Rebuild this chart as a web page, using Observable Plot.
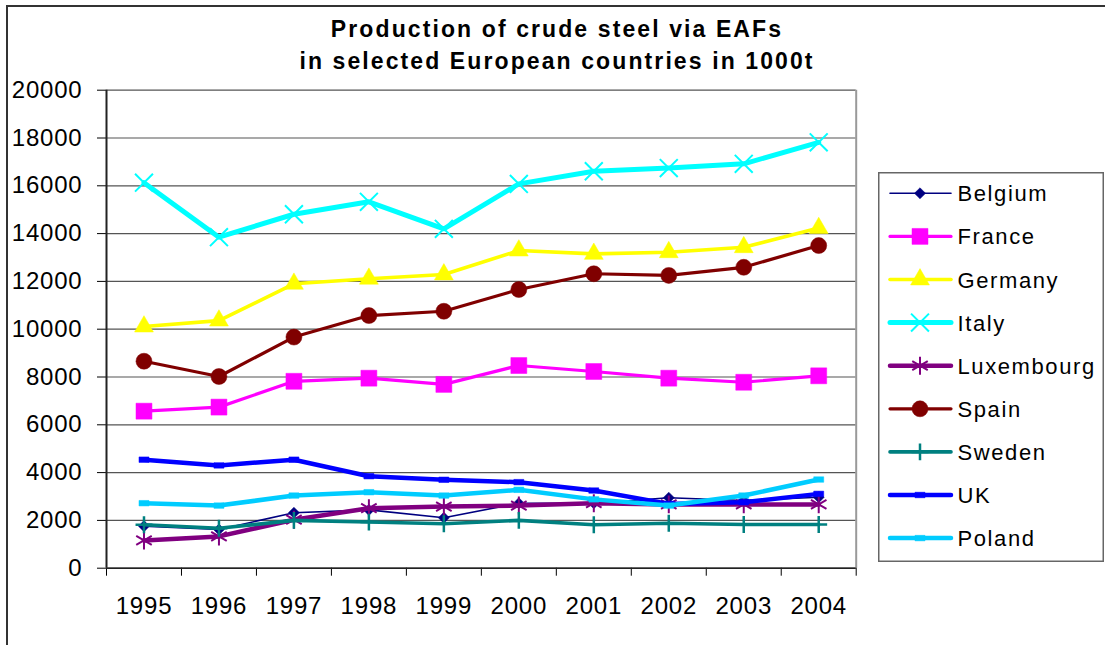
<!DOCTYPE html>
<html><head><meta charset="utf-8">
<script src="https://cdn.jsdelivr.net/npm/d3@7"></script>
<script src="https://cdn.jsdelivr.net/npm/@observablehq/plot@0.6"></script>
<style>
body{margin:0;background:#fff;font-family:"Liberation Sans",Arial,sans-serif;}
#wrap{position:relative;width:1105px;height:645px;overflow:hidden;background:#fff;}
#frame{position:absolute;left:6px;top:5px;width:1200px;height:800px;border-top:2px solid #333;border-left:2px solid #333;pointer-events:none;}
#title{height:85px;box-sizing:border-box;padding-top:13px;width:1114px;text-align:center;font-weight:bold;font-size:23px;letter-spacing:2.1px;line-height:32px;color:#000;}
#legend{position:absolute;left:878px;top:172px;}
</style>
</head>
<body>
<div id="wrap">
  <div id="title">Production of crude steel via EAFs<br>in selected European countries in 1000t</div>
  <div id="chart"></div>
  <div id="legend"></div>
  <div id="frame"></div>
</div>
<script>
// ---- data ----
const years = [1995, 1996, 1997, 1998, 1999, 2000, 2001, 2002, 2003, 2004];
const belgium    = [1760, 1620, 2320, 2440, 2110, 2720, 2720, 2950, 2830, 2970];
const france     = [6570, 6740, 7820, 7950, 7690, 8480, 8230, 7950, 7780, 8050];
const germany    = [10110, 10360, 11900, 12110, 12290, 13290, 13150, 13220, 13430, 14230];
const italy      = [16130, 13850, 14810, 15330, 14200, 16080, 16610, 16740, 16920, 17820];
const luxembourg = [1160, 1330, 2030, 2510, 2580, 2620, 2720, 2670, 2670, 2670];
const spain      = [8660, 8020, 9670, 10570, 10750, 11660, 12320, 12250, 12590, 13500];
const sweden     = [1820, 1670, 2000, 1930, 1860, 2000, 1820, 1880, 1830, 1830];
const uk         = [4540, 4300, 4540, 3850, 3700, 3600, 3250, 2690, 2760, 3110];
const poland     = [2720, 2620, 3040, 3180, 3040, 3280, 2880, 2620, 3040, 3710];
const countries  = ["Belgium", "France", "Germany", "Italy", "Luxembourg", "Spain", "Sweden", "UK", "Poland"];
const seriesValues = [belgium, france, germany, italy, luxembourg, spain, sweden, uk, poland];
const yTicks = [0, 2000, 4000, 6000, 8000, 10000, 12000, 14000, 16000, 18000, 20000];

// ---- styles ----
const dash = {
  draw(ctx, size) {
    const w = Math.sqrt(size) * 1.13, h = w * 0.55;
    ctx.moveTo(-w / 2, -h / 2); ctx.lineTo(w / 2, -h / 2); ctx.lineTo(w / 2, h / 2); ctx.lineTo(-w / 2, h / 2); ctx.closePath();
  }
};
const styles = {
  Belgium:    {color: "#000080", lw: 1.6, symbol: "diamond2", d3sym: d3.symbolDiamond2, r: 5,   fill: true},
  France:     {color: "#FF00FF", lw: 3.2, symbol: "square",   d3sym: d3.symbolSquare,   r: 9,   fill: true},
  Germany:    {color: "#FFFF00", lw: 3.6, symbol: "triangle", d3sym: d3.symbolTriangle, r: 7,   fill: true},
  Italy:      {color: "#00FFFF", lw: 5,   symbol: "times",    d3sym: d3.symbolTimes,    r: 8.2, fill: false, sw: 2},
  Luxembourg: {color: "#800080", lw: 4.5, symbol: "asterisk", d3sym: d3.symbolAsterisk, r: 8.5, fill: false, sw: 2},
  Spain:      {color: "#800000", lw: 3.2, symbol: "circle",   d3sym: d3.symbolCircle,   r: 8,   fill: true},
  Sweden:     {color: "#008080", lw: 3.6, symbol: "plus",     d3sym: d3.symbolPlus,     r: 5.5, fill: false, sw: 2.5},
  UK:         {color: "#0000FF", lw: 4.5, symbol: dash,       d3sym: dash,              r: 5,   fill: true},
  Poland:     {color: "#00CCFF", lw: 4.5, symbol: dash,       d3sym: dash,              r: 5,   fill: true}
};

const rows = [];
countries.forEach((c, i) => years.forEach((y, j) => rows.push({country: c, year: y, value: seriesValues[i][j]})));

const boundaries = years.map(y => y - 0.5).concat([years[years.length - 1] + 0.5]);
const xDomain = [boundaries[0], boundaries[boundaries.length - 1]];

const marks = [
  Plot.ruleY(yTicks, {stroke: "#555", strokeWidth: 1.2}),
  Plot.ruleX([xDomain[1]], {stroke: "#999", strokeWidth: 2}),
  Plot.axisY({ticks: yTicks, tickSize: 9, tickPadding: 15, tickFormat: d => String(d), label: null}),
  Plot.axisX({ticks: boundaries, tickSize: 8, tickFormat: () => "", label: null}),
  Plot.axisX({ticks: years, tickSize: 0, tickPadding: 29, tickFormat: d => String(d), label: null}),
  Plot.ruleX([xDomain[0]], {stroke: "#222", strokeWidth: 2}),
  Plot.ruleY([0], {stroke: "#222", strokeWidth: 1.5})
];
countries.forEach(c => {
  const s = styles[c];
  const data = rows.filter(d => d.country === c);
  marks.push(Plot.line(data, {x: "year", y: "value", stroke: s.color, strokeWidth: s.lw}));
  marks.push(Plot.dot(data, {
    x: "year", y: "value", symbol: s.symbol, r: s.r,
    fill: s.fill ? s.color : "none", stroke: s.color,
    strokeWidth: s.fill ? 0.5 : s.sw
  }));
});

const chart = Plot.plot({
  width: 1105,
  height: 560,
  marginTop: 4.7,
  marginBottom: 77.3,
  marginLeft: 106,
  marginRight: 249.3,
  x: {type: "linear", domain: xDomain, axis: null, label: null},
  y: {domain: [0, 20000], axis: null, label: null},
  style: {fontSize: "24px", fontFamily: "'Liberation Sans', Arial, sans-serif", color: "#000", letterSpacing: "0.8px", background: "transparent", overflow: "visible"},
  marks
});
document.getElementById("chart").appendChild(chart);

// ---- legend ----
const lw = 226, lh = 390, step = 43.1, y0 = 21.3;
const leg = d3.select("#legend").append("svg").attr("width", lw + 2).attr("height", lh + 2);
leg.append("rect").attr("x", 0.75).attr("y", 0.75).attr("width", lw - 1.5).attr("height", lh - 1.5)
  .attr("fill", "#fff").attr("stroke", "#666").attr("stroke-width", 1.5);
countries.forEach((c, i) => {
  const s = styles[c];
  const cy = y0 + i * step;
  const g = leg.append("g").attr("transform", `translate(0,${cy})`);
  g.append("line").attr("x1", 12).attr("x2", 73).attr("y1", 0).attr("y2", 0)
    .attr("stroke", s.color).attr("stroke-width", s.lw).attr("stroke-linecap", "round");
  g.append("path").attr("transform", "translate(42,0)")
    .attr("d", d3.symbol(s.d3sym, Math.PI * s.r * s.r)())
    .attr("fill", s.fill ? s.color : "none").attr("stroke", s.color)
    .attr("stroke-width", s.fill ? 0.5 : s.sw);
  g.append("text").attr("x", 79.5).attr("y", 8).text(c)
    .attr("font-family", "'Liberation Sans', Arial, sans-serif").attr("font-size", 22)
    .attr("letter-spacing", "1.6px").attr("fill", "#000");
});
</script>
</body></html>
